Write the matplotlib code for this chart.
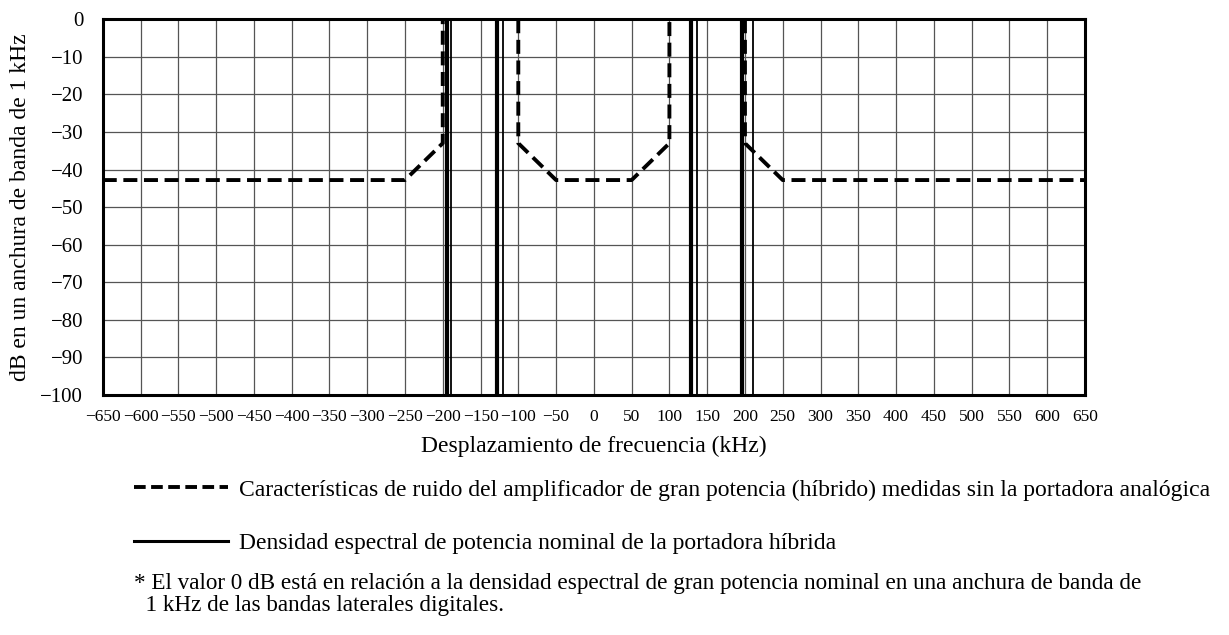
import numpy as np
import matplotlib
matplotlib.use("Agg")
import matplotlib.pyplot as plt
from matplotlib.lines import Line2D

plt.rcParams["font.family"] = ["Liberation Serif", "DejaVu Serif"]
plt.rcParams["axes.unicode_minus"] = True

# noise mask of the high power amplifier (three dashed pieces)
mask_left_x = [-650, -250, -200, -200]
mask_left_y = [-42.8, -42.8, -33, 0]
mask_mid_x = [-100, -100, -50, 50, 100, 100]
mask_mid_y = [0, -33, -42.8, -42.8, -33, 0]
mask_right_x = [200, 200, 250, 650]
mask_right_y = [0, -33, -42.8, -42.8]

# edges of the digital sidebands (nominal PSD), heavy and light strokes
edge_heavy = [-194.5, -128.5, 128.5, 196]
edge_light = [-189.5, -120.5, 137, 210]

x_ticks = np.arange(-650, 651, 50)
y_ticks = np.arange(-100, 1, 10)

legend_labels = [
    "Características de ruido del amplificador de gran potencia (híbrido) medidas sin la portadora analógica",
    "Densidad espectral de potencia nominal de la portadora híbrida",
]
note_lines = [
    "* El valor 0 dB está en relación a la densidad espectral de gran potencia nominal en una anchura de banda de",
    "  1 kHz de las bandas laterales digitales.",
]

fig = plt.figure(figsize=(12.29, 6.35), dpi=100)
ax = fig.add_axes([0.0836, 0.378, 0.7992, 0.5917])

dash = (3.6, 1.7)
for xs, ys in [(mask_left_x, mask_left_y), (mask_mid_x, mask_mid_y), (mask_right_x, mask_right_y)]:
    ax.plot(xs, ys, color="black", lw=2.8, linestyle=(0, dash), solid_joinstyle="miter",
            dash_capstyle="butt", zorder=4)

for x in edge_heavy:
    ax.axvline(x, color="black", lw=3.0, zorder=3)
for x in edge_light:
    ax.axvline(x, color="black", lw=1.3, zorder=3)

ax.set_xlim(-650, 650)
ax.set_ylim(-100, 0)
ax.set_xticks(x_ticks)
ax.set_yticks(y_ticks)
ax.grid(True, color="#555555", lw=0.9)
ax.set_axisbelow(True)
ax.tick_params(axis="both", length=0)
ax.tick_params(axis="y", labelsize=15, pad=14)
ax.tick_params(axis="x", labelsize=12.5, pad=10)
for sp in ax.spines.values():
    sp.set_linewidth(2.2)

ax.set_xlabel("Desplazamiento de frecuencia (kHz)", fontsize=17)
ax.xaxis.set_label_coords(0.5, -0.11)
ax.set_ylabel("dB en un anchura de banda de 1 kHz", fontsize=17)
ax.yaxis.set_label_coords(-0.073, 0.5)

handles = [
    Line2D([], [], color="black", lw=2.8, linestyle=(0, (3.0, 1.4)), dash_capstyle="butt"),
    Line2D([], [], color="black", lw=2.2),
]
fig.legend(handles, legend_labels, loc="upper left", bbox_to_anchor=(0.109, 0.2457),
           frameon=False, fontsize=17, handlelength=4.0, handletextpad=0.45,
           labelspacing=1.36, borderaxespad=0, borderpad=0)

fig.text(0.109, 1 - 584 / 635, note_lines[0], fontsize=16.7, va="center")
fig.text(0.109, 1 - 605 / 635, note_lines[1], fontsize=16.7, va="center")

fig.savefig("out.png", dpi=100)
